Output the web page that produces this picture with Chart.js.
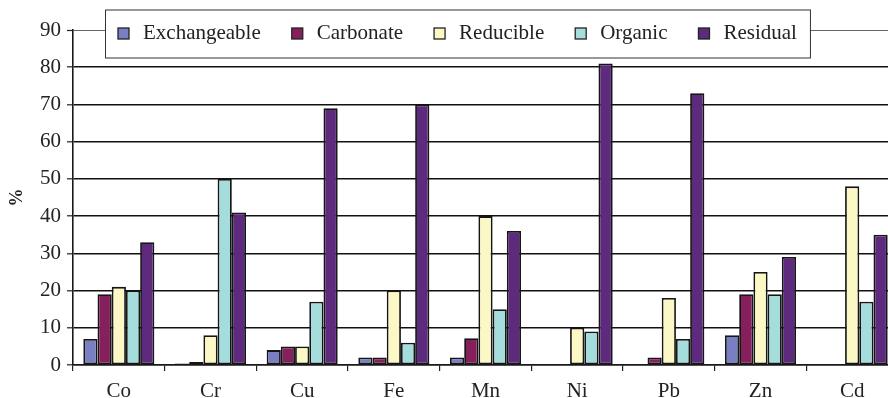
<!DOCTYPE html>
<html>
<head>
<meta charset="utf-8">
<script src="https://cdn.jsdelivr.net/npm/chart.js@4.4.1/dist/chart.umd.min.js"></script>
<style>
  html, body { margin: 0; padding: 0; background: #fff; overflow: hidden; }
  #wrap { width: 888px; height: 398px; overflow: hidden; position: relative; }
  canvas { display: block; }
</style>
</head>
<body>
<div id="wrap"><canvas id="c" width="898" height="398"></canvas></div>
<script>
// Metals and fraction shares (%)
const metals = ['Co', 'Cr', 'Cu', 'Fe', 'Mn', 'Ni', 'Pb', 'Zn', 'Cd'];
const fractions = ['Exchangeable', 'Carbonate', 'Reducible', 'Organic', 'Residual'];

const exchangeable = [7, 0.4, 4, 2, 2, 0, 0, 8, 0];
const carbonate    = [19, 0.8, 5, 2, 7.2, 0, 2, 19, 0];
const reducible    = [21, 8, 5, 20, 40, 10, 18, 25, 48];
const organic      = [20, 50, 17, 6, 15, 9, 7, 19, 17];
const residual     = [33, 41, 69, 70, 36, 81, 73, 29, 35];

const yTicks = [0, 10, 20, 30, 40, 50, 60, 70, 80, 90];

const colors = ['#7a7ec2', '#85205d', '#fbf8c6', '#a5dcdc', '#5e2a7d'];
const series = [exchangeable, carbonate, reducible, organic, residual];

const serif = "'Liberation Serif', 'Times New Roman', serif";

// Boxed legend drawn across the top of the plot area
const boxLegend = {
  id: 'boxLegend',
  afterDraw(chart) {
    const ctx = chart.ctx;
    const sets = chart.data.datasets;
    ctx.save();
    ctx.font = '21px ' + serif;
    const left = 105, top = 9.5, h = 48;
    const mark = 11, gapText = 25, gapItem = 31;
    let x = left + 13;
    const pos = [];
    sets.forEach(ds => {
      const w = ctx.measureText(ds.label).width;
      pos.push({ x, w });
      x += gapText + w + gapItem;
    });
    const right = x - gapItem + 13;
    ctx.fillStyle = '#fff';
    ctx.fillRect(left, top, right - left, h);
    ctx.strokeStyle = '#333';
    ctx.lineWidth = 1;
    ctx.strokeRect(left + 0.5, top + 0.5, right - left, h);
    const cy = top + h / 2;
    sets.forEach((ds, i) => {
      const p = pos[i];
      ctx.fillStyle = ds.backgroundColor;
      ctx.fillRect(p.x, cy - mark / 2, mark, mark);
      ctx.strokeStyle = '#222';
      ctx.lineWidth = 1.3;
      ctx.strokeRect(p.x, cy - mark / 2, mark, mark);
      ctx.fillStyle = '#222';
      ctx.textBaseline = 'middle';
      ctx.textAlign = 'left';
      ctx.fillText(ds.label, p.x + gapText, cy);
    });
    ctx.restore();
  }
};

new Chart(document.getElementById('c'), {
  type: 'bar',
  data: {
    labels: metals,
    datasets: fractions.map((name, i) => ({
      label: name,
      data: series[i],
      backgroundColor: colors[i],
      borderColor: '#161616',
      borderWidth: 1.8,
      borderSkipped: false,
      categoryPercentage: 0.775,
      barPercentage: 1.0
    }))
  },
  options: {
    responsive: false,
    animation: false,
    layout: { padding: { top: 30, right: 0, left: 0, bottom: 0 } },
    plugins: {
      legend: { display: false },
      tooltip: { enabled: false }
    },
    scales: {
      x: {
        afterFit(scale) { scale.height = 33; },
        grid: {
          display: true,
          drawOnChartArea: false,
          drawTicks: true,
          tickLength: 6,
          offset: true,
          color: '#222',
          lineWidth: 1.2
        },
        border: { display: true, color: '#1a1a1a', width: 1.6 },
        ticks: {
          color: '#222',
          font: { family: serif, size: 21 },
          padding: 8,
          maxRotation: 0,
          autoSkip: false
        }
      },
      y: {
        min: 0,
        max: 90,
        afterFit(scale) { scale.width = 73; },
        afterBuildTicks(scale) { scale.ticks = yTicks.map(v => ({ value: v })); },
        grid: {
          color: ctx => (ctx.tick && ctx.tick.value === 90 ? '#666' : '#111'),
          lineWidth: ctx => (ctx.tick && ctx.tick.value === 90 ? 1 : 1.6),
          tickColor: '#222',
          tickWidth: 1.2,
          drawTicks: true,
          tickLength: 6
        },
        border: { display: true, color: '#1a1a1a', width: 1.6 },
        ticks: {
          color: '#222',
          font: { family: serif, size: 21 },
          padding: 6
        },
        title: {
          display: true,
          text: '%',
          color: '#222',
          font: { family: serif, size: 18, weight: 'bold' },
          padding: { top: 7, bottom: 0 }
        }
      }
    }
  },
  plugins: [boxLegend]
});
</script>
</body>
</html>
